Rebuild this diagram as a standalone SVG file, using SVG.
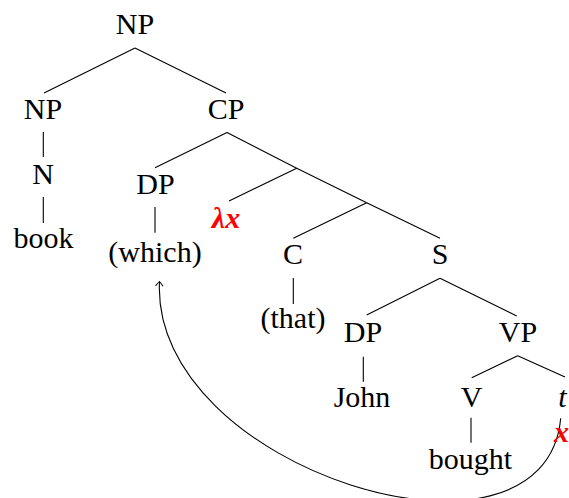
<svg xmlns="http://www.w3.org/2000/svg" width="569" height="498" viewBox="0 0 569 498">
<style>
text{font-family:"Liberation Serif","Times New Roman",serif;font-size:30px;fill:#000;text-anchor:middle}
.it{font-style:italic}
.red{fill:#ff0000;font-weight:bold;font-style:italic}
.e{stroke:#000;stroke-width:1.1;fill:none}
</style>
<defs>
<marker id="to" markerWidth="12" markerHeight="12" refX="0" refY="0" viewBox="-6 -6 12 12" orient="auto" markerUnits="userSpaceOnUse">
<path d="M-4.5,-3.8 Q-1,-1 0,0 Q-1,1 -4.5,3.8" fill="none" stroke="#000" stroke-width="1"/>
</marker>
</defs>
<g id="connectors">
<path class="e" d="M135,48L44,93M135,48L226,93"/>
<path class="e" d="M43.3,132V157M43.3,197V223"/>
<path class="e" d="M227,132.5L155,167.7M227,132.5L296.7,168.3"/>
<path class="e" d="M296.7,168.3L229,201M296.7,168.3L366.7,202.7"/>
<path class="e" d="M366.7,202.7L293.3,238.3M366.7,202.7L440,238.3"/>
<path class="e" d="M155,207V232.7M293.3,278V304"/>
<path class="e" d="M440,278.3L366.7,315M440,278.3L516.7,316"/>
<path class="e" d="M363.3,356.7V381.7"/>
<path class="e" d="M517.7,355.7L471.7,377.7M517.7,355.7L565,377"/>
<path class="e" d="M471,417.7V442.7"/>
<path class="e" d="M560.7,418.3C545,590 150,470 159.5,281.5" marker-end="url(#to)"/>
</g>
<g id="n-root"><text x="135" y="34">NP</text></g>
<g id="n-np"><text x="43" y="119">NP</text></g>
<g id="n-cp"><text x="226" y="119">CP</text></g>
<g id="n-n"><text x="43" y="184">N</text></g>
<g id="n-book"><text x="43.5" y="248">book</text></g>
<g id="n-dp1"><text x="155.5" y="194">DP</text></g>
<g id="n-which"><text x="155" y="262">(which)</text></g>
<g id="n-lambda"><text class="red" x="226" y="228">λx</text></g>
<g id="n-c"><text x="293" y="264">C</text></g>
<g id="n-that"><text x="293" y="328">(that)</text></g>
<g id="n-s"><text x="440" y="264">S</text></g>
<g id="n-dp2"><text x="363" y="342">DP</text></g>
<g id="n-john"><text x="362" y="407">John</text></g>
<g id="n-vp"><text x="518" y="342">VP</text></g>
<g id="n-v"><text x="471.5" y="407">V</text></g>
<g id="n-bought"><text x="470.5" y="469">bought</text></g>
<g id="n-t"><text class="it" x="562.5" y="407">t</text><text class="red" x="561.5" y="442">x</text></g>
</svg>
